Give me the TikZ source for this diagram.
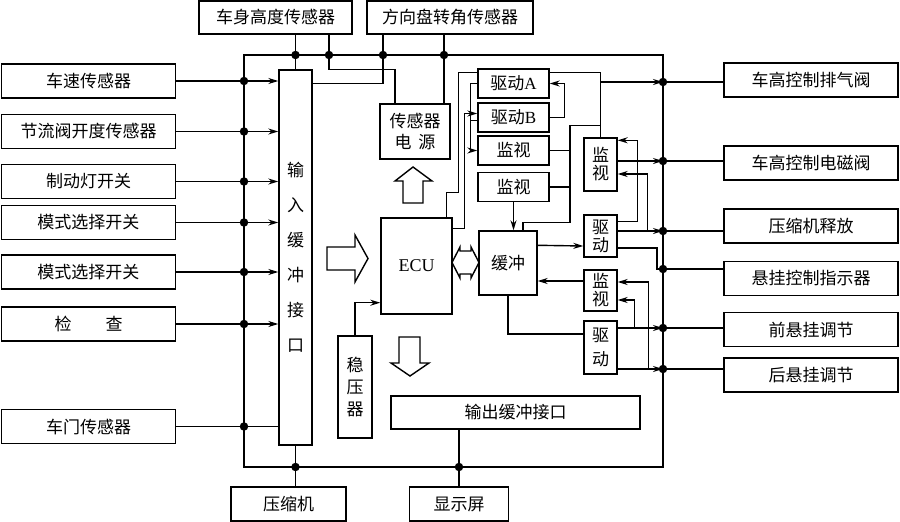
\documentclass[tikz,border=0pt]{standalone}
\usepackage{fontspec}
\setmainfont{Liberation Serif}
\newfontfamily\cjk{Noto Sans CJK SC}
\usetikzlibrary{arrows.meta}
\usetikzlibrary{calc}
\tikzset{box/.style = {draw, inner sep = 0, font = \cjk\fontsize{17}{20}\selectfont}}
\tikzset{vbox/.style = {box, minimum width = 33, align = center, font = \cjk\fontsize{17}{18}\selectfont}}
\tikzset{junc/.style = {fill, circle, inner sep = 0, minimum size = 8.5}}
\tikzset{arr/.style = {-{Stealth[length = 10pt, width = 6pt]}}}
\tikzset{blk/.style = {draw, line join = miter}}

\begin{document}
\begin{tikzpicture}[x = 1pt, y = -1pt, line width = 1.4pt]
      \useasboundingbox (0, 0) rectangle (900, 522);

      % bus frame
      \coordinate (bl) at (244, 55);
      \coordinate (br) at (663, 467);
      \draw (bl) rectangle (br);

      % inputs
      \foreach \n/\y/\lab in {spd/81/车速传感器, thr/131.5/节流阀开度传感器, brk/181.5/制动灯开关,
          modA/222.5/模式选择开关, modB/272/模式选择开关, chk/324/检\hspace{2em}查, door/426.5/车门传感器} {
        \node [box, minimum width = 174, minimum height = 34] (\n) at (88.5, \y) {\lab};
      }
      \node [box, minimum width = 33, minimum height = 375, align = center,
        font = \cjk\fontsize{17}{35}\selectfont] (inbuf) at (295.5, 257.5) {输\\入\\缓\\冲\\接\\口};

      \foreach \n in {spd, thr, brk, modA, modB, chk} {
        \draw [arr] (\n.east) -- (\n.east -| inbuf.west);
        \node [junc] (j\n) at (\n.east -| bl) {};
      }
      \draw (door.east) -- (door.east -| inbuf.west);
      \node [junc] (jdoor) at (door.east -| bl) {};

      % top sensors
      \node [box, minimum width = 153, minimum height = 33] (body) at (275.5, 17.5) {车身高度传感器};
      \node [box, minimum width = 166, minimum height = 33] (steer) at (450, 17.5) {方向盘转角传感器};
      \node [box, minimum width = 70, minimum height = 55, align = center,
        font = \cjk\fontsize{17}{21}\selectfont] (psu) at (415, 131.5) {传感器\\电\hspace{0.4em}源};

      \coordinate (hb) at ($(body.south) + (53.5, 0)$);
      \coordinate (sa) at ($(steer.south) + (-67, 0)$);
      \coordinate (sb) at ($(psu.north) + (29, 0)$);
      \draw (inbuf.north) -- (inbuf.north |- body.south);
      \draw (hb) |- ($(psu.north) + (-20, -34)$) -- ($(psu.north) + (-20, 0)$);
      \draw (sa) |- ($(inbuf.north east) + (0, 14)$);
      \draw (sb) -- (sb |- steer.south);
      \foreach \c/\k in {inbuf.north/1, hb/2, sa/3, sb/4}
        \node [junc] (jt\k) at (\c |- bl) {};

      % ECU, regulator, output buffer
      \node [box, minimum width = 71, minimum height = 96,
        font = \rmfamily\fontsize{18}{20}\selectfont] (ecu) at (416.5, 266) {ECU};
      \node [box, minimum width = 34, minimum height = 102, align = center,
        font = \cjk\fontsize{17}{22}\selectfont] (reg) at (355, 387) {稳\\压\\器};
      \draw [arr] (reg.north) |- ($(ecu.south west) + (0, -12)$);

      \draw [blk] (327, 247) -- (355, 247) -- (355, 235) -- (368, 258.5) -- (355, 282) -- (355, 270) -- (327, 270) -- cycle;
      \draw [blk] (403, 203) -- (403, 181) -- (395, 181) -- (413, 167) -- (432, 181) -- (423, 181) -- (423, 203) -- cycle;
      \draw [blk] (399, 337) -- (420, 337) -- (420, 363) -- (429, 363) -- (410, 376) -- (391, 363) -- (399, 363) -- cycle;
      \draw [blk] (452, 262.5) -- (460, 247) -- (460, 251) -- (471, 251) -- (471, 247) -- (479, 262.5)
        -- (471, 278) -- (471, 274) -- (460, 274) -- (460, 278) -- cycle;

      \node [box, minimum width = 249, minimum height = 33] (outbuf) at (515.5, 412.5) {输出缓冲接口};
      \node [box, minimum width = 115, minimum height = 34] (comp) at (288.5, 504) {压缩机};
      \node [box, minimum width = 99, minimum height = 34] (disp) at (459, 504) {显示屏};
      \draw (inbuf.south) -- (inbuf.south |- comp.north);
      \draw (outbuf.south -| disp.north) -- (disp.north);
      \node [junc] (jb1) at (inbuf.south |- br) {};
      \node [junc] (jb2) at (disp.north |- br) {};

      % drivers and monitors
      \foreach \n/\y/\lab in {drvA/83.5/驱动{\rmfamily A}, drvB/117.5/驱动{\rmfamily B}, monA/150.5/监视, monB/187/监视} {
        \node [box, minimum width = 71, minimum height = 29] (\n) at (513.5, \y) {\lab};
      }
      \node [box, minimum width = 58, minimum height = 64] (buf) at (508, 263) {缓冲};
      \node [vbox, minimum height = 53] (monC) at (600.5, 164.5) {监\\视};
      \node [vbox, minimum height = 42] (drvC) at (600.5, 236) {驱\\动};
      \node [vbox, minimum height = 41] (monD) at (600.5, 290.5) {监\\视};
      \node [vbox, minimum height = 53] (drvD) at (600.5, 347.5) {驱\\[6pt]动};

      % outputs
      \foreach \n/\y/\lab in {exh/80/车高控制排气阀, sol/163/车高控制电磁阀, rel/226/压缩机释放,
          ind/278.5/悬挂控制指示器, fadj/329.5/前悬挂调节, radj/375/后悬挂调节} {
        \node [box, minimum width = 174, minimum height = 34] (\n) at (811, \y) {\lab};
      }
      \foreach \k/\y in {1/82, 2/161, 3/231, 4/269, 5/328, 6/369}
        \coordinate (r\k) at (663, \y);

      % ECU to drivers
      \draw ($(ecu.north east) + (-6, 0)$) |- ++(12, -25) |- ($(drvA.north west) + (0, 4)$);
      \draw [arr] ($(ecu.north east) + (0, 11)$) -- ++(12, 0) |- ($(drvB.west) + (0, -4)$);
      \draw [arr] (drvA.west) -- ++(-7, 0) |- (monA.west);
      \draw ($(drvB.west) + (0, 3)$) -- ++(-7, 0);
      \draw [arr] (drvB.east) -- ++(15, 0) |- (drvA.east);
      \draw ($(drvA.north east) + (0, 4)$) -| (monC.north);
      \draw [arr] (r1 -| monC.north) -- (r1);

      % monitors to buffer
      \draw (monA.east) -- ++(21, 0);
      \draw (monB.east) -- ++(21, 0);
      \draw ($(buf.north) + (15, 0)$) -- ++(0, -8) -| ++(47, -97) -- ++(30.5, 0);
      \draw [arr] (monB.south) -- (monB.south |- buf.north);
      \draw [arr] ($(buf.north east) + (0, 15)$) -- ($(drvC.west) + (0, 10)$);
      \draw [arr] ($(monD.west) + (0, -9.5)$) -- ($(buf.east) + (0, 18)$);
      \draw (buf.south) |- ($(drvD.west) + (0, -13.5)$);

      % drivers to bus
      \draw [arr] ($(drvC.north east) + (0, 7)$) -- ++(20, 0) |- ($(monC.north east) + (0, 3)$);
      \draw [arr] (monC.east |- r2) -- (r2);
      \draw [arr] (drvC.east |- r3) -- (r3);
      \draw [arr] ($(drvC.east |- r3) + (30, 0)$) |- ($(monC.east) + (0, 9.5)$);
      \draw ($(drvC.east) + (0, 12)$) -| ($(r4) + (-6, 0)$) -- (r4);
      \draw [arr] (drvD.east |- r5) -- (r5);
      \draw [arr] (drvD.east |- r6) -- (r6);
      \draw [arr] ($(drvD.east |- r5) + (17, 0)$) |- ($(monD.east) + (0, 9.5)$);
      \draw [arr] ($(drvD.east |- r6) + (31, 0)$) |- ($(monD.east) + (0, -8.5)$);

      \foreach \k/\n in {1/exh, 2/sol, 3/rel, 4/ind, 5/fadj, 6/radj} {
        \draw (r\k) -- (r\k -| \n.west);
        \node [junc] (jr\k) at (r\k) {};
      }
    \end{tikzpicture}
\end{document}
